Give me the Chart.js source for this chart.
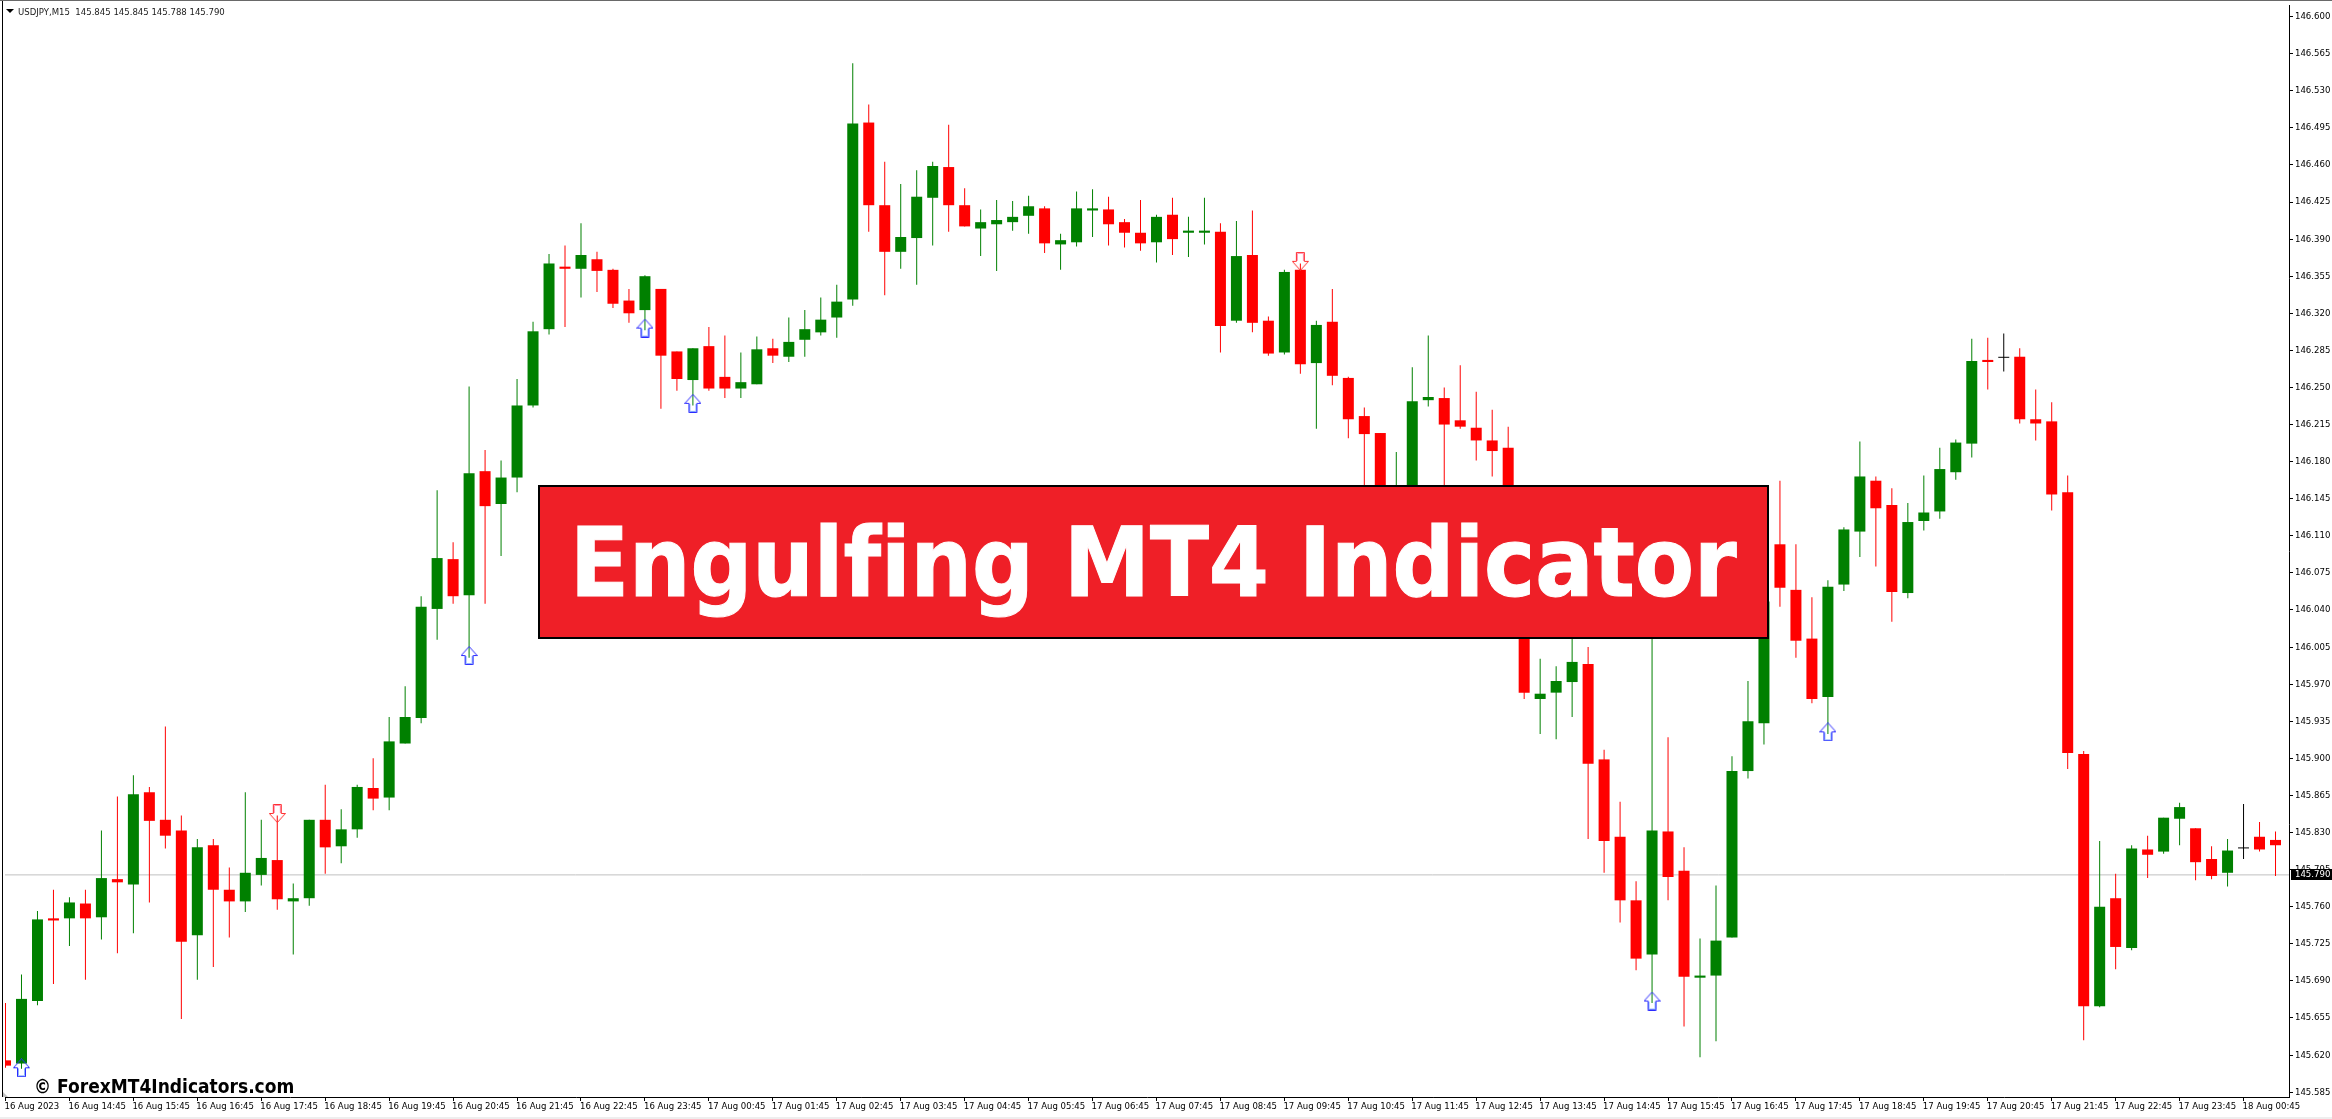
<!DOCTYPE html>
<html>
<head>
<meta charset="utf-8">
<title>Engulfing MT4 Indicator</title>
<script src="https://cdn.jsdelivr.net/npm/chart.js@4/dist/chart.umd.min.js"></script>
<style>
  html, body { margin: 0; padding: 0; background: #fff; overflow: hidden; }
  #wrap { position: relative; width: 2332px; height: 1119px; }
  #wrap canvas { position: absolute; left: 0; top: 0; }
  .bottomStrip { position: absolute; left: 0; top: 1117px; width: 2332px; height: 2px; background: #eeeeee; }
  #header { position: absolute; left: 18px; top: 5px; font: 9.5px/13px "DejaVu Sans Condensed", "DejaVu Sans", sans-serif; font-stretch: condensed; color: #1a1a1a; white-space: pre; }
  #header i { position: absolute; left: -12px; top: 4px; width: 0; height: 0; border-left: 4px solid transparent; border-right: 4px solid transparent; border-top: 4px solid #000; }
  #banner { position: absolute; left: 538px; top: 485px; width: 1227px; height: 150px; background: #ef1f27; border: 2px solid #000; }
  #banner span { position: absolute; left: 30px; top: 20px; color: #fff; white-space: nowrap; font: bold 96px/112px "DejaVu Sans Condensed", "DejaVu Sans", sans-serif; font-stretch: condensed; font-variant-ligatures: none; -webkit-text-stroke: 1px #fff; }
  #mark { position: absolute; left: 34px; top: 1074px; color: #000; white-space: nowrap; font: bold 19px/24px "DejaVu Sans Condensed", "DejaVu Sans", sans-serif; font-stretch: condensed; }
</style>
</head>
<body>
<div id="wrap">
  <canvas id="priceChart" width="2332" height="1117"></canvas>
  <div class="bottomStrip"></div>
  <div id="header"><i></i>USDJPY,M15  145.845 145.845 145.788 145.790</div>
  <div id="banner"><span>Engulfing MT4 Indicator</span></div>
  <div id="mark">© ForexMT4Indicators.com</div>
</div>
<script>
const opens = [
  145.615, 145.612, 145.671, 145.749, 145.749, 145.763, 145.750, 145.786, 145.781, 145.868,
  145.842, 145.832, 145.733, 145.818, 145.776, 145.765, 145.790, 145.804, 145.765, 145.768,
  145.842, 145.817, 145.833, 145.872, 145.863, 145.914, 145.938, 146.041, 146.088, 146.054,
  146.171, 146.140, 146.165, 146.233, 146.305, 146.364, 146.362, 146.371, 146.361, 146.332,
  146.323, 146.343, 146.284, 146.257, 146.289, 146.260, 146.249, 146.253, 146.287, 146.279,
  146.295, 146.302, 146.316, 146.333, 146.500, 146.422, 146.378, 146.391, 146.429, 146.458,
  146.422, 146.400, 146.404, 146.406, 146.412, 146.419, 146.385, 146.387, 146.417, 146.418,
  146.406, 146.396, 146.387, 146.413, 146.396, 146.396, 146.397, 146.313, 146.375, 146.313,
  146.283, 146.361, 146.273, 146.312, 146.259, 146.223, 146.207, 146.123, 146.137, 146.238,
  146.240, 146.219, 146.212, 146.200, 146.193, 146.081, 145.956, 145.962, 145.972, 145.989,
  145.899, 145.826, 145.766, 145.715, 145.831, 145.794, 145.693, 145.695, 145.731, 145.888,
  145.933, 146.102, 146.059, 146.013, 145.958, 146.064, 146.114, 146.162, 146.139, 146.056,
  146.124, 146.133, 146.170, 146.197, 146.276, 146.278, 146.279, 146.220, 146.218, 146.151,
  145.904, 145.666, 145.768, 145.721, 145.814, 145.812, 145.843, 145.834, 145.805, 145.792,
  145.815, 145.826, 145.823
];
const highs = [
  145.669, 145.696, 145.756, 145.776, 145.769, 145.776, 145.832, 145.864, 145.884, 145.873,
  145.930, 145.846, 145.824, 145.824, 145.797, 145.868, 145.842, 145.846, 145.782, 145.842,
  145.875, 145.852, 145.875, 145.900, 145.939, 145.968, 146.053, 146.153, 146.104, 146.251,
  146.191, 146.181, 146.258, 146.312, 146.376, 146.384, 146.405, 146.378, 146.362, 146.343,
  146.356, 146.343, 146.284, 146.287, 146.307, 146.299, 146.283, 146.298, 146.296, 146.316,
  146.323, 146.335, 146.347, 146.556, 146.517, 146.463, 146.442, 146.455, 146.463, 146.498,
  146.438, 146.418, 146.427, 146.426, 146.431, 146.421, 146.395, 146.435, 146.437, 146.430,
  146.409, 146.427, 146.413, 146.429, 146.411, 146.429, 146.405, 146.407, 146.417, 146.317,
  146.361, 146.367, 146.313, 146.343, 146.260, 146.231, 146.207, 146.189, 146.269, 146.299,
  146.250, 146.271, 146.246, 146.229, 146.213, 146.095, 145.994, 145.987, 146.020, 146.005,
  145.908, 145.859, 145.784, 146.048, 145.920, 145.816, 145.730, 145.780, 145.902, 145.973,
  146.057, 146.162, 146.102, 146.052, 146.068, 146.118, 146.199, 146.166, 146.155, 146.141,
  146.167, 146.193, 146.201, 146.296, 146.297, 146.301, 146.287, 146.248, 146.236, 146.167,
  145.907, 145.822, 145.791, 145.818, 145.827, 145.844, 145.858, 145.834, 145.817, 145.824,
  145.857, 145.840, 145.831
];
const lows = [
  145.608, 145.607, 145.667, 145.687, 145.723, 145.691, 145.729, 145.716, 145.735, 145.764,
  145.815, 145.654, 145.691, 145.703, 145.731, 145.755, 145.780, 145.757, 145.715, 145.761,
  145.791, 145.801, 145.825, 145.851, 145.851, 145.914, 145.933, 146.012, 146.046, 145.995,
  146.046, 146.091, 146.151, 146.231, 146.300, 146.307, 146.335, 146.340, 146.325, 146.311,
  146.304, 146.230, 146.247, 146.233, 146.247, 146.240, 146.240, 146.253, 146.273, 146.274,
  146.279, 146.299, 146.297, 146.327, 146.397, 146.337, 146.362, 146.347, 146.384, 146.397,
  146.402, 146.374, 146.360, 146.398, 146.395, 146.377, 146.361, 146.383, 146.392, 146.384,
  146.382, 146.379, 146.368, 146.375, 146.373, 146.385, 146.283, 146.311, 146.302, 146.280,
  146.281, 146.263, 146.211, 146.252, 146.202, 146.151, 146.123, 146.104, 146.128, 146.232,
  146.157, 146.211, 146.181, 146.166, 146.071, 145.956, 145.923, 145.918, 145.939, 145.824,
  145.792, 145.745, 145.700, 145.669, 145.766, 145.647, 145.618, 145.633, 145.731, 145.881,
  145.913, 146.043, 145.995, 145.952, 145.923, 146.058, 146.090, 146.081, 146.029, 146.051,
  146.115, 146.126, 146.163, 146.184, 146.248, 146.265, 146.216, 146.200, 146.134, 145.890,
  145.634, 145.665, 145.701, 145.719, 145.787, 145.810, 145.818, 145.785, 145.786, 145.779,
  145.805, 145.812, 145.789
];
const closes = [
  145.610, 145.673, 145.748, 145.747, 145.764, 145.749, 145.787, 145.783, 145.866, 145.841,
  145.827, 145.727, 145.816, 145.776, 145.765, 145.792, 145.806, 145.767, 145.768, 145.842,
  145.816, 145.833, 145.873, 145.862, 145.916, 145.939, 146.043, 146.089, 146.053, 146.169,
  146.138, 146.165, 146.233, 146.303, 146.367, 146.362, 146.375, 146.360, 146.329, 146.320,
  146.355, 146.280, 146.258, 146.287, 146.249, 146.249, 146.255, 146.286, 146.280, 146.293,
  146.305, 146.314, 146.331, 146.499, 146.422, 146.378, 146.392, 146.430, 146.459, 146.422,
  146.402, 146.406, 146.408, 146.411, 146.421, 146.386, 146.389, 146.419, 146.419, 146.404,
  146.396, 146.386, 146.411, 146.390, 146.398, 146.398, 146.308, 146.374, 146.311, 146.282,
  146.359, 146.272, 146.309, 146.261, 146.220, 146.206, 146.133, 146.151, 146.237, 146.241,
  146.215, 146.213, 146.200, 146.190, 146.086, 145.962, 145.961, 145.973, 145.991, 145.895,
  145.822, 145.766, 145.711, 145.832, 145.788, 145.694, 145.695, 145.728, 145.888, 145.935,
  146.048, 146.061, 146.011, 145.956, 146.062, 146.116, 146.166, 146.136, 146.057, 146.123,
  146.132, 146.173, 146.198, 146.275, 146.274, 146.278, 146.220, 146.216, 146.149, 145.905,
  145.666, 145.760, 145.722, 145.815, 145.809, 145.844, 145.854, 145.802, 145.789, 145.813,
  145.815, 145.814, 145.818
];

const tickLabels = [
  "16 Aug 2023", "16 Aug 14:45", "16 Aug 15:45", "16 Aug 16:45", "16 Aug 17:45", "16 Aug 18:45",
  "16 Aug 19:45", "16 Aug 20:45", "16 Aug 21:45", "16 Aug 22:45", "16 Aug 23:45", "17 Aug 00:45",
  "17 Aug 01:45", "17 Aug 02:45", "17 Aug 03:45", "17 Aug 04:45", "17 Aug 05:45", "17 Aug 06:45",
  "17 Aug 07:45", "17 Aug 08:45", "17 Aug 09:45", "17 Aug 10:45", "17 Aug 11:45", "17 Aug 12:45",
  "17 Aug 13:45", "17 Aug 14:45", "17 Aug 15:45", "17 Aug 16:45", "17 Aug 17:45", "17 Aug 18:45",
  "17 Aug 19:45", "17 Aug 20:45", "17 Aug 21:45", "17 Aug 22:45", "17 Aug 23:45", "18 Aug 00:45"
];
const priceTicks = [
  146.600, 146.565, 146.530, 146.495, 146.460, 146.425, 146.390, 146.355, 146.320, 146.285,
  146.250, 146.215, 146.180, 146.145, 146.110, 146.075, 146.040, 146.005, 145.970, 145.935,
  145.900, 145.865, 145.830, 145.795, 145.760, 145.725, 145.690, 145.655, 145.620, 145.585
];
const lastPrice = 145.790;

// engulfing signals: candle index and the price the arrow sits at
const upIndex = [1, 29, 40, 43, 103, 114];
const upPrice = [145.608, 145.997, 146.306, 146.235, 145.671, 145.925];
const downIndex = [17, 81];
const downPrice = [145.848, 146.369];

const GREEN = "#008000";
const RED = "#ff0000";
const LABEL_FONT = "DejaVu Sans Condensed";
const candleColor = opens.map((o, i) =>
  closes[i] > o ? GREEN : closes[i] < o ? RED : "#000000"
);

// hollow arrow used as the point image
function makeArrow(up, outer, inner) {
  const c = document.createElement("canvas");
  c.width = 17;
  c.height = 19;
  const g = c.getContext("2d");
  if (!up) {
    g.translate(0, 19);
    g.scale(1, -1);
  }
  g.beginPath();
  [[8.5, 0.5], [16.5, 9.5], [12.5, 9.5], [12.5, 18.5], [4.5, 18.5], [4.5, 9.5], [0.5, 9.5]].forEach((p, i) => {
    if (i === 0) g.moveTo(p[0], p[1]);
    else g.lineTo(p[0], p[1]);
  });
  g.closePath();
  g.strokeStyle = outer;
  g.lineWidth = 1;
  g.stroke();
  g.beginPath();
  g.moveTo(5.5, 10);
  g.lineTo(5.5, 17.5);
  g.lineTo(11.5, 17.5);
  g.lineTo(11.5, 10);
  g.strokeStyle = inner;
  g.stroke();
  return c;
}

// MT4 style frame plus the black last price tag
const mtFrame = {
  id: "mtFrame",
  afterDraw(chart) {
    const { ctx, chartArea: a, scales } = chart;
    ctx.save();
    ctx.fillStyle = "#696969";
    ctx.fillRect(0, 0, chart.width, 1);
    ctx.fillStyle = "#000";
    ctx.fillRect(2, 1, 1, a.bottom - 1);
    ctx.fillStyle = "#c4c4c4";
    ctx.beginPath();
    ctx.moveTo(3, a.bottom - 5);
    ctx.lineTo(8, a.bottom);
    ctx.lineTo(3, a.bottom);
    ctx.fill();
    const y = Math.floor(scales.y.getPixelForValue(lastPrice));
    ctx.fillStyle = "#000";
    ctx.fillRect(a.right + 2, y - 5, chart.width - a.right - 2, 11);
    ctx.fillStyle = "#fff";
    ctx.font = '9.5px "' + LABEL_FONT + '"';
    ctx.textBaseline = "middle";
    ctx.fillText(lastPrice.toFixed(3), a.right + 6, y + 1);
    ctx.restore();
  },
};

new Chart(document.getElementById("priceChart"), {
  data: {
    datasets: [
      {
        type: "line",
        data: [
          { x: -1, y: lastPrice },
          { x: 143, y: lastPrice },
        ],
        borderColor: "#c0c0c0",
        borderWidth: 1,
        pointRadius: 0,
        order: 4,
      },
      {
        type: "bar",
        data: opens.map((o, i) => ({ x: i, y: [lows[i], highs[i]] })),
        backgroundColor: candleColor,
        barThickness: 1,
        inflateAmount: 0,
        order: 3,
      },
      {
        type: "bar",
        data: opens.map((o, i) => ({ x: i, y: [o, closes[i]] })),
        backgroundColor: candleColor,
        barThickness: 11,
        minBarLength: 1,
        inflateAmount: 0,
        order: 2,
      },
      {
        type: "line",
        showLine: false,
        data: upIndex.map((k, i) => ({ x: k, y: upPrice[i] })),
        pointStyle: makeArrow(true, "#2a2aff", "#8fb4ff"),
        order: 1,
      },
      {
        type: "line",
        showLine: false,
        data: downIndex.map((k, i) => ({ x: k, y: downPrice[i] })),
        pointStyle: makeArrow(false, "#ff3030", "#ff90b0"),
        order: 1,
      },
    ],
  },
  options: {
    responsive: false,
    animation: false,
    devicePixelRatio: 1,
    grouped: false,
    events: [],
    layout: { padding: { left: 3, top: 3, right: 0, bottom: 0 } },
    plugins: {
      legend: { display: false },
      tooltip: { enabled: false },
    },
    scales: {
      x: {
        type: "linear",
        offset: false,
        min: -0.03125,
        max: 142.84375,
        afterBuildTicks: (scale) => {
          scale.ticks = tickLabels.map((t, i) => ({ value: i * 4 }));
        },
        afterFit: (scale) => {
          scale.height = 20;
          scale.paddingLeft = 0;
          scale.paddingRight = 0;
        },
        border: { display: true, color: "#000" },
        grid: { drawOnChartArea: false, color: "#000", tickLength: 4, offset: false },
        ticks: {
          autoSkip: false,
          maxRotation: 0,
          align: "start",
          labelOffset: -1,
          padding: 0,
          color: "#000",
          font: { family: LABEL_FONT, size: 9.5 },
          callback: (v, i) => tickLabels[i],
        },
      },
      y: {
        position: "right",
        min: 145.58041,
        max: 146.61093,
        afterBuildTicks: (scale) => {
          scale.ticks = priceTicks.map((p) => ({ value: p }));
        },
        afterFit: (scale) => {
          scale.width = 43;
          scale.paddingTop = 0;
          scale.paddingBottom = 0;
        },
        border: { display: true, color: "#000" },
        grid: { drawOnChartArea: false, color: "#000", tickLength: 4 },
        ticks: {
          autoSkip: false,
          padding: 2,
          color: "#000",
          font: { family: LABEL_FONT, size: 9.5 },
          callback: (v) => v.toFixed(3),
        },
      },
    },
  },
  plugins: [mtFrame],
});
</script>
</body>
</html>
